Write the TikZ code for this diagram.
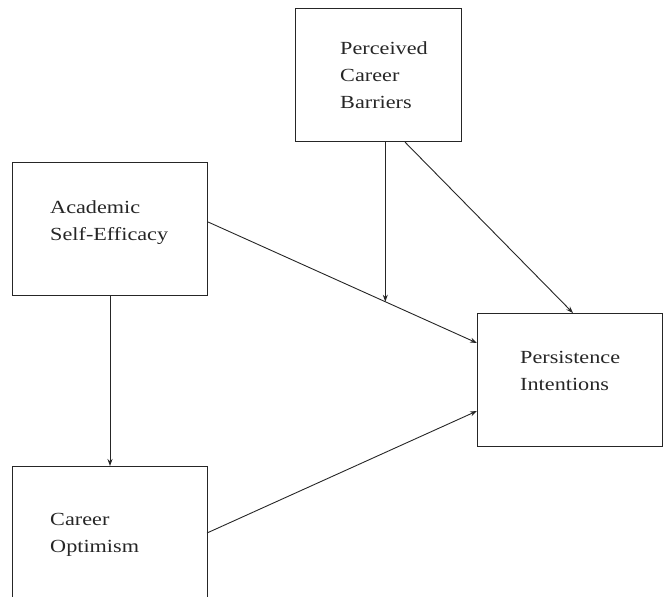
\documentclass[tikz,border=0pt]{standalone}
\usepackage{fontspec}
\setmainfont{Liberation Serif}
\usetikzlibrary{arrows.meta,calc}
\begin{document}
\begin{tikzpicture}[x=1pt,y=-1pt,
  box/.style={draw=black!85, line width=1.1pt, inner sep=0pt, anchor=north west},
  lbl/.style={anchor=base west, inner sep=0pt, xscale=1.2, font=\fontsize{18.5}{27}\selectfont, align=left, text=black!85},
  arr/.style={draw=black!85, line width=0.9pt, -{Stealth[length=7pt,width=5pt]}}]
\useasboundingbox (0,0) rectangle (664,597);
\clip (0,0) rectangle (664,597);
\node[box, minimum width=166pt, minimum height=133pt] (pcb) at (295,8) {};
\node[box, minimum width=195pt, minimum height=133pt] (ase) at (12,162) {};
\node[box, minimum width=185pt, minimum height=133pt] (pi) at (477,313) {};
\node[box, minimum width=195pt, minimum height=150pt] (co) at (12,466) {};
\node[lbl] (tpcb) at (340,108) {Perceived\\Career\\Barriers};
\node[lbl] (tase) at (50,240) {Academic\\Self-Efficacy};
\node[lbl] (tpi) at (520,390) {Persistence\\Intentions};
\node[lbl] (tco) at (50,552) {Career\\Optimism};
\coordinate (a1) at ($(ase.north east)+(0,60)$);
\coordinate (a2) at ($(pi.north west)+(0,30)$);
\coordinate (c1) at ($(co.north west)+(195,67)$);
\coordinate (c2) at ($(pi.north west)+(0,98)$);
\draw[arr] (a1) -- (a2) coordinate[pos=0.659] (j);
\draw[arr] (j |- pcb.south) -- (j);
\draw[arr] ($(pcb.south west)+(110,0)$) -- ($(pi.north west)+(96,0)$);
\draw[arr] ($(ase.south west)+(98,0)$) -- ($(co.north west)+(98,0)$);
\draw[arr] (c1) -- (c2);
\end{tikzpicture}
\end{document}
